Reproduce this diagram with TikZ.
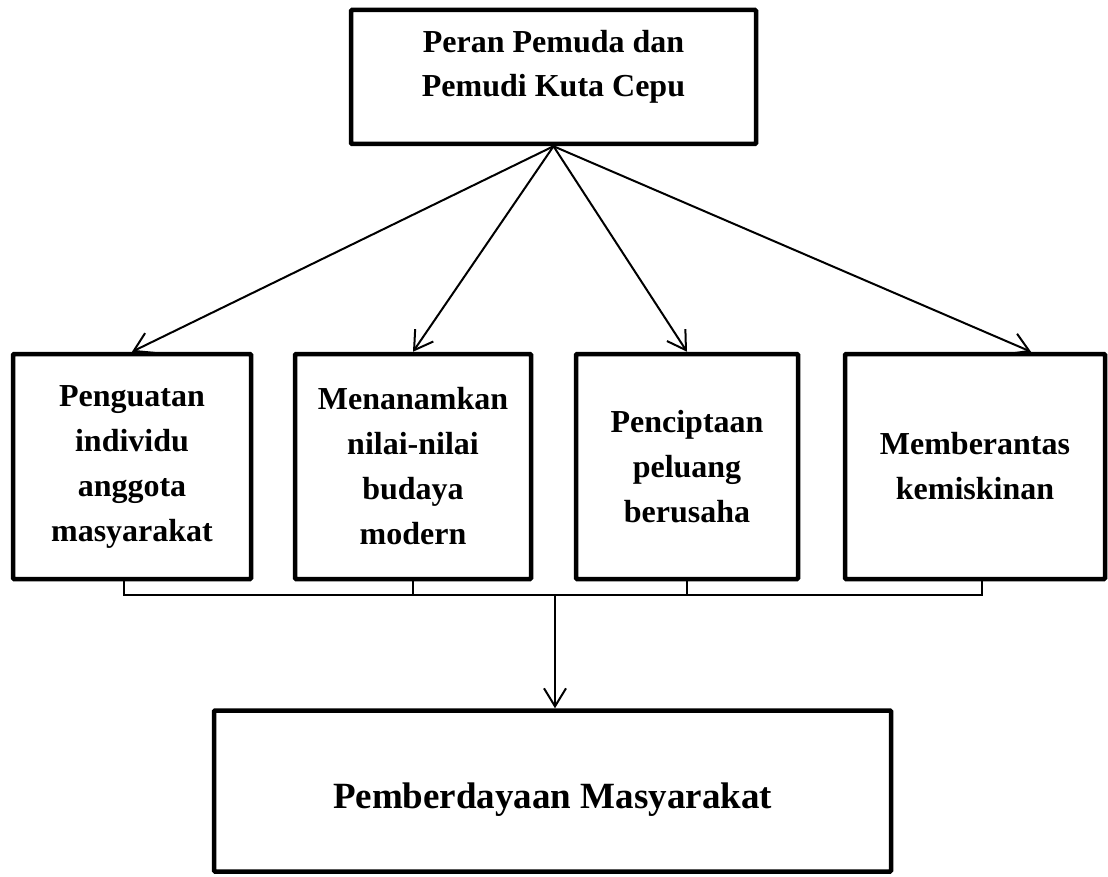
\documentclass[tikz,border=0pt]{standalone}
\usepackage{fontspec}
\setmainfont{Liberation Serif}
\usetikzlibrary{arrows.meta}

\tikzset{
  itembox/.style={draw, line width=4.5pt, rounded corners=1pt, align=center, inner sep=0pt,
    font=\fontsize{32}{45}\selectfont\bfseries},
  boxtext/.style={align=center, inner sep=0pt, font=\fontsize{32}{44}\selectfont\bfseries},
  link/.style={line width=2pt, -{Straight Barb[length=18pt, width=22pt, line width=2pt]}},
  busline/.style={line width=1.2pt},
}

\begin{document}
\begin{tikzpicture}[x=1pt, y=-1pt]
    \useasboundingbox (0,0) rectangle (1108,877);
    % top
    \node[itembox, minimum width=405pt, minimum height=134pt,
      label={[boxtext, yshift=10pt]center:{Peran Pemuda dan\\Pemudi Kuta Cepu}}] (peran) at (553.5, 77) {};
    % middle row
    \node[itembox, minimum width=238pt, minimum height=225pt] (penguatan) at (132, 466.5)
      {Penguatan\\individu\\anggota\\masyarakat};
    \node[itembox, minimum width=236pt, minimum height=225pt] (menanamkan) at (413, 466.5)
      {Menanamkan\\nilai-nilai\\budaya\\modern};
    \node[itembox, minimum width=222pt, minimum height=225pt] (penciptaan) at (687, 466.5)
      {Penciptaan\\peluang\\berusaha};
    \node[itembox, minimum width=260pt, minimum height=225pt] (memberantas) at (975, 466.5)
      {Memberantas\\kemiskinan};
    % bottom
    \node[itembox, minimum width=677pt, minimum height=161pt,
      label={[boxtext, font=\fontsize{37}{44}\selectfont\bfseries, yshift=-9pt]center:Pemberdayaan Masyarakat}]
      (pemberdayaan) at (552.5, 791) {};
    \coordinate (bus) at (555, 595);
    \draw[link] (peran.south) -- (penguatan.north);
    \draw[link] (peran.south) -- (menanamkan.north);
    \draw[link] (peran.south) -- (penciptaan.north);
    \draw[link] (peran.south) -- ([xshift=56pt]memberantas.north);
    \draw[busline] ([xshift=-8pt]penguatan.south) |- (bus) -| ([xshift=7pt]memberantas.south);
    \draw[busline] (menanamkan.south) -- (menanamkan.south |- bus);
    \draw[busline] (penciptaan.south) -- (penciptaan.south |- bus);
    \draw[link] (bus) -- (bus |- pemberdayaan.north);
\end{tikzpicture}
\end{document}
